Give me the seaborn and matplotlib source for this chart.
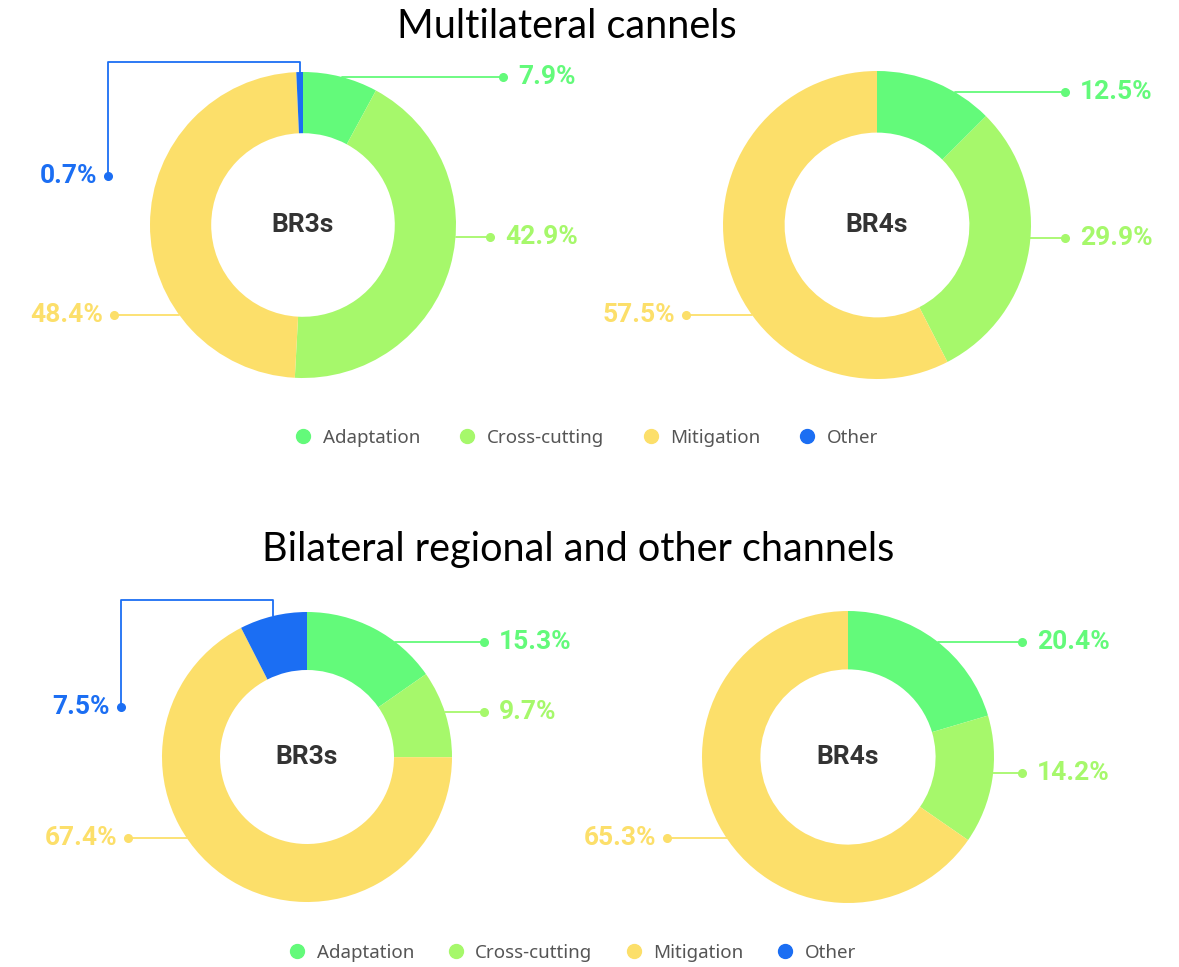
import numpy as np
import matplotlib
matplotlib.use('Agg')
import matplotlib.pyplot as plt
from matplotlib.lines import Line2D
import seaborn as sns

# data
categories = ['Adaptation', 'Cross-cutting', 'Mitigation', 'Other']
multi_br3 = [7.9, 42.9, 48.4, 0.7]
multi_br4 = [12.5, 29.9, 57.5, 0.0]
bilat_br3 = [15.3, 9.7, 67.4, 7.5]
bilat_br4 = [20.4, 14.2, 65.3, 0.0]
panel_titles = ['Multilateral cannels', 'Bilateral regional and other channels']
donut_names = ['BR3s', 'BR4s', 'BR3s', 'BR4s']

W, H = 1179, 967

# layout in pixels (x, y from top-left)
# label entry: (y of leader, x of dot) ; for "Other": (elbow y, dot x, dot y)
layout = [
    dict(vals=multi_br3, c=(303, 225), r=153,
         labels=[(77, 503), (237, 490), (315, 114), (62, 108, 176)]),
    dict(vals=multi_br4, c=(877, 225), r=154,
         labels=[(92, 1065), (238, 1065), (315, 686), None]),
    dict(vals=bilat_br3, c=(307, 757), r=145,
         labels=[(642, 484), (712, 484), (838, 128), (600, 121, 707)]),
    dict(vals=bilat_br4, c=(848, 757), r=146,
         labels=[(642, 1022), (773, 1022), (838, 667), None]),
]
title_pos = [(567, 26), (578, 550)]
legend_pos = [(586, 438, 2.0), (572, 953, 1.7)]

sns.set_theme(style='white')
plt.rcParams['font.family'] = ['DejaVu Sans']
palette = sns.color_palette(['#63FA7A', '#A6F86B', '#FCDF6A', '#1B6EF3'])

label_font = dict(family=['Roboto', 'DejaVu Sans'], weight='bold', size=19)

fig = plt.figure(figsize=(W / 100, H / 100), dpi=100)
ax = fig.add_axes([0, 0, 1, 1])


def fy(y):
    return H - y


for i, d in enumerate(layout):
    cx, cy = d['c']
    r = d['r']
    vals = np.array(d['vals'])
    keep = vals > 0
    ax.pie(vals[keep], colors=[palette[k] for k in np.where(keep)[0]],
           startangle=90, counterclock=False, radius=r, center=(cx, fy(cy)),
           wedgeprops=dict(width=r * 0.4, edgecolor='none'), frame=True)
    ax.text(cx, fy(cy), donut_names[i], ha='center', va='center',
            fontsize=19, fontweight='bold', color='#333333', family='Roboto')

    total = vals.sum()
    cum = np.cumsum(vals) - vals / 2
    for k, lab in enumerate(d['labels']):
        if lab is None or vals[k] == 0:
            continue
        col = palette[k]
        txt = f'{vals[k]}%'
        if len(lab) == 3:
            # elbow callout for the small "Other" slice
            elbow_y, dot_x, dot_y = lab
            th = np.deg2rad(360 * cum[k] / total)
            x0 = cx + r * np.sin(th)
            y0 = cy - r * np.cos(th)
            ax.plot([x0, x0, dot_x, dot_x], [fy(y0), fy(elbow_y), fy(elbow_y), fy(dot_y)],
                    color=col, lw=1.3, zorder=1)
        else:
            dot_y, dot_x = lab
            side = 1 if dot_x > cx else -1
            x0 = cx + side * np.sqrt(max(r ** 2 - (dot_y - cy) ** 2, 0))
            ax.plot([x0, dot_x], [fy(dot_y), fy(dot_y)], color=col, lw=1.3, zorder=1)
        ax.plot(dot_x, fy(dot_y), 'o', color=col, ms=5.5, zorder=2)
        if dot_x > cx:
            ax.text(dot_x + 15, fy(dot_y), txt, ha='left', va='center', color=col, **label_font)
        else:
            ax.text(dot_x - 11, fy(dot_y), txt, ha='right', va='center', color=col, **label_font)

for t, (x, y) in zip(panel_titles, title_pos):
    ax.text(x, fy(y), t, ha='center', va='center', fontsize=28.5, color='black', family='Lato')

handles = [Line2D([], [], marker='o', ls='none', ms=10, color=palette[k]) for k in range(4)]
for x, y, cs in legend_pos:
    fig.legend(handles, categories, loc='center', ncol=4, frameon=False,
               bbox_to_anchor=(x / W, 1 - y / H), handlelength=1.0, handletextpad=0.55,
               columnspacing=cs, prop=dict(family='Noto Sans', size=13.5),
               labelcolor='#555555')

ax.set_xlim(0, W)
ax.set_ylim(0, H)
ax.set_aspect('equal')
ax.axis('off')

fig.savefig('out.png', dpi=100, facecolor='white')
